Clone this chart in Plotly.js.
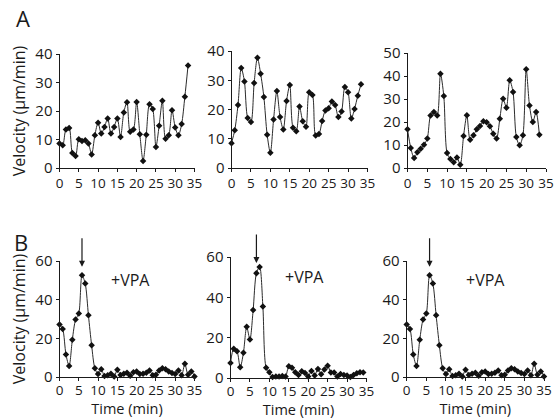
<!DOCTYPE html>
<html>
<head>
<meta charset="utf-8">
<script src="https://cdn.plot.ly/plotly-3.0.1.min.js"></script>
<style>html,body{margin:0;padding:0;background:#fff;}#chart{width:556px;height:420px;}</style>
</head>
<body>
<div id="chart"></div>
<script>
// Sampling times (min), one frame every 50 s
var time = [0, 0.83, 1.67, 2.5, 3.33, 4.17, 5, 5.83, 6.67, 7.5, 8.33, 9.17, 10, 10.83, 11.67, 12.5, 13.33, 14.17, 15, 15.83, 16.67, 17.5, 18.33, 19.17, 20, 20.83, 21.67, 22.5, 23.33, 24.17, 25, 25.83, 26.67, 27.5, 28.33, 29.17, 30, 30.83, 31.67, 32.5, 33.33, 34.17, 35];

// Panel A (control cells), velocity in µm/min
var velA1 = [8.6, 8.0, 13.5, 14.0, 5.3, 4.2, 10.1, 9.5, 9.7, 8.6, 4.7, 11.5, 15.9, 12.1, 14.4, 17.4, 12.1, 14.4, 17.4, 10.9, 19.5, 23.1, 12.7, 13.5, 23.2, 11.8, 2.5, 11.7, 22.4, 20.7, 7.4, 14.8, 23.6, 10.3, 11.5, 20.3, 14.2, 11.5, 15.4, 25.0, 36.0];
var velA2 = [8.5, 12.9, 21.5, 34.2, 29.6, 17.1, 15.7, 29.1, 37.7, 32.2, 24.3, 11.4, 5.2, 16.6, 26.3, 17.4, 13.2, 22.9, 28.4, 13.8, 12.6, 21.0, 16.0, 14.1, 25.9, 25.0, 11.1, 11.6, 16.1, 19.7, 20.4, 22.7, 21.5, 17.4, 19.3, 27.7, 25.9, 16.9, 20.2, 24.7, 28.6];
var velA3 = [16.8, 8.7, 4.3, 6.8, 8.4, 10.1, 12.8, 22.8, 24.3, 22.8, 41.0, 31.3, 6.5, 3.9, 2.5, 4.6, 1.4, 13.9, 22.9, 12.3, 14.2, 16.8, 18.3, 20.3, 19.9, 18.1, 14.9, 12.8, 21.4, 30.1, 26.2, 38.1, 33.0, 13.5, 9.9, 14.2, 42.9, 27.2, 20.0, 24.3, 14.5];

// Panel B (+VPA), velocity in µm/min
var velB1 = [27.1, 24.8, 11.7, 5.7, 19.3, 29.7, 32.8, 52.6, 48.3, 31.9, 16.4, 4.5, 1.6, 4.0, 0.5, 0.9, 1.7, 0.3, 3.8, 1.0, 1.7, 2.2, 0.7, 2.4, 2.9, 1.6, 1.7, 2.2, 3.3, 0.9, 1.2, 3.4, 4.5, 4.0, 2.8, 2.1, 1.6, 3.3, 0.9, 6.9, 1.2, 2.9, 0.3, 2.1];
var velB2 = [7.5, 14.5, 13.3, 5.3, 12.5, 25.4, 19.1, 33.7, 52.0, 55.1, 35.5, 5.1, 2.8, 0.5, 0.8, 0.8, 1.0, 0.8, 5.8, 5.1, 2.8, 1.5, 3.3, 2.5, 0.8, 3.5, 1.3, 4.5, 1.8, 4.2, 6.1, 2.7, 2.7, 0.7, 2.0, 1.5, 1.3, 0.5, 1.5, 2.3, 2.8, 2.7];
var velB3 = [27.1, 24.8, 11.7, 5.7, 19.3, 29.7, 32.8, 52.6, 48.3, 31.9, 16.4, 4.5, 1.6, 4.0, 0.5, 0.9, 1.7, 0.3, 3.8, 1.0, 1.7, 2.2, 0.7, 2.4, 2.9, 1.6, 1.7, 2.2, 3.3, 0.9, 1.2, 3.4, 4.5, 4.0, 2.8, 2.1, 1.6, 3.3, 0.9, 6.9, 1.2, 2.9, 0.3, 2.1];

// VPA addition time (arrow) per B panel, min
var vpaTimes = [5.83, 6.67, 5.83];
var xTicks = [0, 5, 10, 15, 20, 25, 30, 35];
var yTitle = 'Velocity (\u00b5m/min)';
var xTitle = 'Time (min)';

var FONT = '"Open Sans", "Noto Sans", sans-serif';
var INK = '#1a1a1a';

var series = [velA1, velA2, velA3, velB1, velB2, velB3];
var traces = series.map(function (v, i) {
  var n = i + 1;
  var sfx = n === 1 ? '' : String(n);
  return {
    x: time.slice(0, v.length), y: v, type: 'scatter', mode: 'lines+markers',
    xaxis: 'x' + sfx, yaxis: 'y' + sfx, cliponaxis: false, showlegend: false,
    line: {color: '#2b2b2b', width: 1, shape: 'spline', smoothing: 0.8},
    marker: {symbol: 'diamond', size: 5, color: '#111'}
  };
});

function px(v) { return v / 556; }
function py(v) { return 1 - v / 420; }

var xdom = [[px(59.5), px(194.5)], [px(231.5), px(367.5)], [px(407.5), px(546)],
            [px(59.5), px(194.5)], [px(230.5), px(366.5)], [px(406.7), px(544)]];
var ydom = [[py(168), py(54)], [py(168), py(51)], [py(168), py(53)],
            [py(377), py(261)], [py(378), py(257)], [py(377), py(261)]];
var yranges = [[0, 40], [0, 40], [0, 50], [0, 60], [0, 60], [0, 60]];
var ydt = [10, 10, 10, 20, 20, 20];

var layout = {
  width: 556, height: 420, margin: {l: 0, r: 0, t: 0, b: 0},
  paper_bgcolor: '#fff', plot_bgcolor: 'rgba(0,0,0,0)',
  font: {family: FONT, size: 15, color: INK},
  showlegend: false, annotations: []
};

for (var i = 0; i < 6; i++) {
  var sfx = i === 0 ? '' : String(i + 1);
  layout['xaxis' + sfx] = {
    domain: xdom[i], range: [0, 35], anchor: 'y' + sfx,
    tickmode: 'array', tickvals: xTicks, ticktext: xTicks.map(String), tickangle: 0,
    showline: true, linecolor: INK, linewidth: 1, ticks: 'outside', ticklen: 3,
    tickcolor: INK, showgrid: false, zeroline: false, fixedrange: true,
    ticklabelstandoff: i >= 3 ? -2 : 0,
    tickfont: {family: FONT, size: 13.5, color: INK},
    title: i >= 3 ? {text: xTitle, font: {family: FONT, size: 14.5, color: INK}, standoff: 3} : {text: ''}
  };
  layout['yaxis' + sfx] = {
    domain: ydom[i], range: yranges[i], anchor: 'x' + sfx, dtick: ydt[i], tick0: 0,
    showline: true, linecolor: INK, linewidth: 1, ticks: 'outside', ticklen: 3,
    tickcolor: INK, showgrid: false, zeroline: false, fixedrange: true,
    tickfont: {family: FONT, size: 15, color: INK},
    title: (i === 0 || i === 3) ? {text: yTitle, font: {family: FONT, size: 16, color: INK}, standoff: 5} : {text: ''}
  };
}

// Panel letters
layout.annotations.push({text: 'A', xref: 'paper', yref: 'paper', x: px(23), y: py(18), showarrow: false,
  font: {family: FONT, size: 22, color: INK}, xanchor: 'center', yanchor: 'middle'});
layout.annotations.push({text: 'B', xref: 'paper', yref: 'paper', x: px(21), y: py(242), showarrow: false,
  font: {family: FONT, size: 22, color: INK}, xanchor: 'center', yanchor: 'middle'});

// +VPA labels and arrows
var vpaLabelX = [18.5, 19, 20.1];
for (var k = 0; k < 3; k++) {
  var s = String(k + 4);
  layout.annotations.push({text: '+VPA', xref: 'x' + s, yref: 'y' + s, x: vpaLabelX[k], y: 50,
    showarrow: false, xanchor: 'center', yanchor: 'middle',
    font: {family: FONT, size: 16, color: INK}});
  layout.annotations.push({text: '', xref: 'x' + s, yref: 'y' + s, x: vpaTimes[k], y: 57,
    showarrow: true, arrowhead: 2, arrowsize: 1, arrowwidth: 1.2, arrowcolor: INK,
    ax: 0, ay: -30, axref: 'pixel', ayref: 'pixel', standoff: 0});
}

Plotly.newPlot('chart', traces, layout, {staticPlot: true, displayModeBar: false});
</script>
</body>
</html>
